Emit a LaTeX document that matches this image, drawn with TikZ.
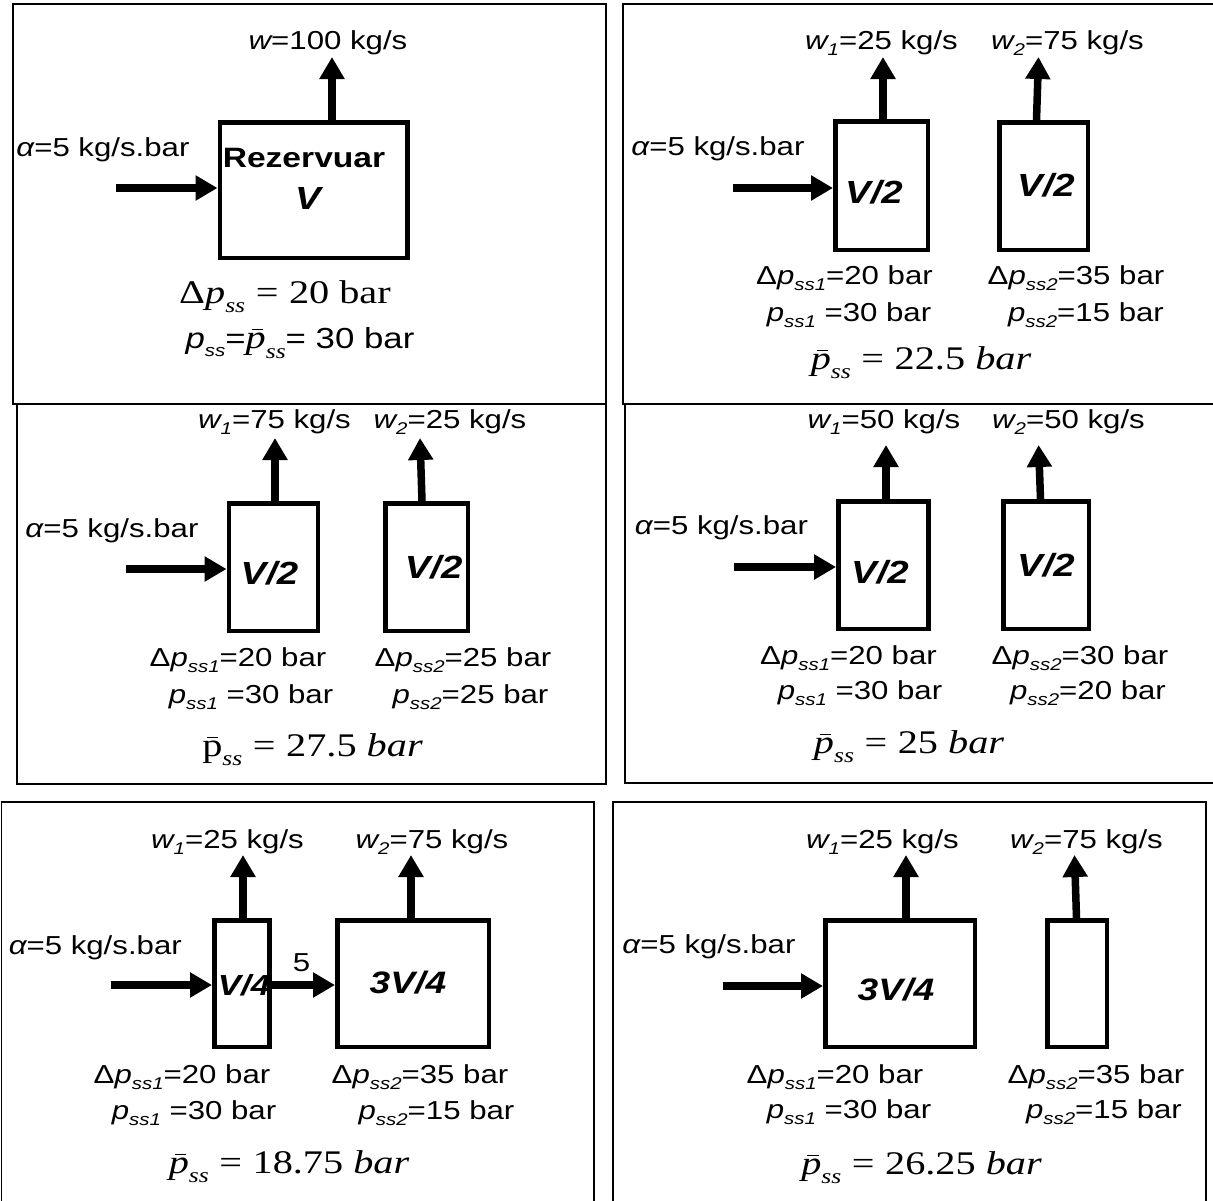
\documentclass[tikz,border=0pt]{standalone}
\usepackage[no-math]{fontspec}
\setmainfont{Liberation Sans}[FakeStretch=1.2]
\newfontfamily\serf{Liberation Serif}[FakeStretch=1.22]
\usepackage{graphicx}
\usetikzlibrary{arrows.meta}
\newcommand\sbs[1]{\raisebox{-0.25em}{\fontsize{17}{17}\selectfont\itshape #1}}
\newcommand\sss[1]{\raisebox{-0.28em}{\fontsize{21}{21}\selectfont\itshape #1}}
\newcommand\eqq{\hspace{0.32em}=\hspace{0.32em}}
\newcommand\pbar[1]{\ooalign{#1\cr\hidewidth\kern0.1em\raisebox{0.56em}{\rule{0.34em}{0.045em}}\hidewidth\cr}}
\tikzset{
  panel/.style={draw, line width=1.5pt},
  tank/.style={draw, line width=4.5pt, inner sep=0pt},
  flow/.style={line width=7.5pt, -{Triangle[width=24pt,length=22pt]}},
  lbl/.style={inner sep=0pt, font=\fontsize{26}{30}\selectfont},
  vol/.style={inner sep=0pt, font=\fontsize{32}{36}\selectfont\bfseries\itshape},
  eqn/.style={inner sep=0pt, font=\serf\fontsize{33}{38}\selectfont},
}
\begin{document}
\begin{tikzpicture}[x=1pt,y=-1pt]
\useasboundingbox (0,0) rectangle (1213,1200);
% panels
\draw[panel] (13,4) rectangle (606,404);
\draw[panel] (623,4) rectangle (1216,404);
\draw[panel] (17,404) rectangle (606,784);
\draw[panel] (625,404) rectangle (1216,783);
\draw[panel] (1.7,802) rectangle (594,1204);
\draw[panel] (613,802) rectangle (1206,1204);

% ---------- Panel 1
\node[tank, minimum width=187.5pt, minimum height=135.5pt] (p1a) at (313.5,190) {};
\coordinate (p1in) at (116,188);
\coordinate (p1t) at (332,57);
\draw[flow] (p1in) -- (p1in -| p1a.west);
\draw[flow] ([xshift=18.5pt]p1a.north) -- (p1t);
\node[lbl] (p1w) at (328,43) {{\itshape w}=100 kg/s};
\node[lbl] (p1al) at (103,150) {{\itshape α}=5 kg/s.bar};
\node[lbl, font=\fontsize{28}{32}\selectfont\bfseries] (p1r) at (304,158) {Rezervuar};
\node[vol] (p1v) at (308,198) {V};
\node[eqn] (p1e1) at (285,297) {Δ{\itshape p}\sss{ss}\eqq 20 bar};
\node[lbl, font=\fontsize{29}{33}\selectfont] (p1e2) at (300,343) {{\itshape p}\sbs{ss}={\serf\fontsize{33}{36}\selectfont\pbar{\itshape p}\sss{ss}}= 30 bar};

% ---------- Panel 2
\node[tank, minimum width=92.5pt, minimum height=128.5pt] (p2a) at (881.5,185.5) {};
\node[tank, minimum width=88.5pt, minimum height=127.5pt] (p2b) at (1043.5,186) {};
\coordinate (p2in) at (733,188);
\coordinate (p2ta) at (883,57);
\coordinate (p2tb) at (1038.5,57);
\draw[flow] (p2in) -- (p2in -| p2a.west);
\draw[flow] ([xshift=1.5pt]p2a.north) -- (p2ta);
\draw[flow] ([xshift=-7pt]p2b.north) -- (p2tb);
\node[lbl] (p2w1) at (881.5,43) {{\itshape w}\sbs{1}=25 kg/s};
\node[lbl] (p2w2) at (1067.5,43) {{\itshape w}\sbs{2}=75 kg/s};
\node[lbl] (p2al) at (718,149) {{\itshape α}=5 kg/s.bar};
\node[vol] (p2v1) at (874,192) {V/2};
\node[vol] (p2v2) at (1046,185) {V/2};
\node[lbl] (p2d1) at (844.5,278) {Δ{\itshape p}\sbs{ss1}=20 bar};
\node[lbl] (p2s1) at (849,315) {{\itshape p}\sbs{ss1} =30 bar};
\node[lbl] (p2d2) at (1076,278) {Δ{\itshape p}\sbs{ss2}=35 bar};
\node[lbl] (p2s2) at (1086,315) {{\itshape p}\sbs{ss2}=15 bar};
\node[eqn] (p2e) at (921,363) {\pbar{\itshape p}\sss{ss}\eqq 22.5 {\itshape bar}};

% ---------- Panel 3
\node[tank, minimum width=89pt, minimum height=127.5pt] (p3a) at (273.3,567) {};
\node[tank, minimum width=82.5pt, minimum height=127.5pt] (p3b) at (426.5,567) {};
\coordinate (p3in) at (126,569);
\coordinate (p3ta) at (275,438);
\coordinate (p3tb) at (420,438);
\draw[flow] (p3in) -- (p3in -| p3a.west);
\draw[flow] ([xshift=1.7pt]p3a.north) -- (p3ta);
\draw[flow] ([xshift=-4.5pt]p3b.north) -- (p3tb);
\node[lbl] (p3w1) at (274.5,422) {{\itshape w}\sbs{1}=75 kg/s};
\node[lbl] (p3w2) at (450,422) {{\itshape w}\sbs{2}=25 kg/s};
\node[lbl] (p3al) at (112,531) {{\itshape α}=5 kg/s.bar};
\node[vol] (p3v1) at (269.5,573) {V/2};
\node[vol] (p3v2) at (433.6,567) {V/2};
\node[lbl] (p3d1) at (238,660) {Δ{\itshape p}\sbs{ss1}=20 bar};
\node[lbl] (p3s1) at (251,697) {{\itshape p}\sbs{ss1} =30 bar};
\node[lbl] (p3d2) at (463,660) {Δ{\itshape p}\sbs{ss2}=25 bar};
\node[lbl] (p3s2) at (470.5,697) {{\itshape p}\sbs{ss2}=25 bar};
\node[eqn] (p3e) at (312.5,750) {\ooalign{p\cr\hidewidth\raisebox{0.56em}{\rule{0.34em}{0.045em}}\hidewidth\cr}\sss{ss}\eqq 27.5 {\itshape bar}};

% ---------- Panel 4
\node[tank, minimum width=90pt, minimum height=127.5pt] (p4a) at (883.3,565) {};
\node[tank, minimum width=85.5pt, minimum height=127.5pt] (p4b) at (1046,565) {};
\coordinate (p4in) at (734,567);
\coordinate (p4ta) at (886,445);
\coordinate (p4tb) at (1038.6,445);
\draw[flow] (p4in) -- (p4in -| p4a.west);
\draw[flow] ([xshift=2.7pt]p4a.north) -- (p4ta);
\draw[flow] ([xshift=-5.5pt]p4b.north) -- (p4tb);
\node[lbl] (p4w1) at (884,422) {{\itshape w}\sbs{1}=50 kg/s};
\node[lbl] (p4w2) at (1068.5,422) {{\itshape w}\sbs{2}=50 kg/s};
\node[lbl] (p4al) at (721.5,528) {{\itshape α}=5 kg/s.bar};
\node[vol] (p4v1) at (880,572) {V/2};
\node[vol] (p4v2) at (1046,565) {V/2};
\node[lbl] (p4d1) at (848.5,658) {Δ{\itshape p}\sbs{ss1}=20 bar};
\node[lbl] (p4s1) at (860,693) {{\itshape p}\sbs{ss1} =30 bar};
\node[lbl] (p4d2) at (1080,658) {Δ{\itshape p}\sbs{ss2}=30 bar};
\node[lbl] (p4s2) at (1088,693) {{\itshape p}\sbs{ss2}=20 bar};
\node[eqn] (p4e) at (909,747) {\pbar{\itshape p}\sss{ss}\eqq 25 {\itshape bar}};

% ---------- Panel 5
\node[tank, minimum width=55pt, minimum height=126.5pt] (p5a) at (241.75,983.5) {};
\node[tank, minimum width=151.5pt, minimum height=126.5pt] (p5b) at (413,983.5) {};
\coordinate (p5in) at (110.5,985);
\coordinate (p5ta) at (243,855);
\coordinate (p5tb) at (411,855);
\draw[flow] (p5in) -- (p5in -| p5a.west);
\draw[flow] (p5in -| p5a.east) -- (p5in -| p5b.west);
\draw[flow] ([xshift=1.25pt]p5a.north) -- (p5ta);
\draw[flow] ([xshift=-2pt]p5b.north) -- (p5tb);
\node[lbl] (p5w1) at (227.5,842) {{\itshape w}\sbs{1}=25 kg/s};
\node[lbl] (p5w2) at (432,842) {{\itshape w}\sbs{2}=75 kg/s};
\node[lbl] (p5al) at (95.3,948) {{\itshape α}=5 kg/s.bar};
\node[vol, font=\fontsize{29}{33}\selectfont\bfseries\itshape] (p5v1) at (244,985) {V/4};
\node[vol, font=\fontsize{31}{35}\selectfont\bfseries\itshape] (p5v2) at (408,983) {3V/4};
\node[lbl] (p5five) at (301.5,963) {5};
\node[lbl] (p5d1) at (182,1077) {Δ{\itshape p}\sbs{ss1}=20 bar};
\node[lbl] (p5s1) at (194,1113) {{\itshape p}\sbs{ss1} =30 bar};
\node[lbl] (p5d2) at (420,1077) {Δ{\itshape p}\sbs{ss2}=35 bar};
\node[lbl] (p5s2) at (436.5,1113) {{\itshape p}\sbs{ss2}=15 bar};
\node[eqn] (p5e) at (289,1167) {\pbar{\itshape p}\sss{ss}\eqq 18.75 {\itshape bar}};

% ---------- Panel 6
\node[tank, minimum width=149.5pt, minimum height=126.5pt] (p6a) at (900,983.5) {};
\node[tank, minimum width=59.5pt, minimum height=126.5pt] (p6b) at (1077,983.5) {};
\coordinate (p6in) at (722.7,986);
\coordinate (p6ta) at (906,855);
\coordinate (p6tb) at (1074.5,855);
\draw[flow] (p6in) -- (p6in -| p6a.west);
\draw[flow] ([xshift=6pt]p6a.north) -- (p6ta);
\draw[flow] ([xshift=-0.5pt]p6b.north) -- (p6tb);
\node[lbl] (p6w1) at (882.5,842) {{\itshape w}\sbs{1}=25 kg/s};
\node[lbl] (p6w2) at (1086.5,842) {{\itshape w}\sbs{2}=75 kg/s};
\node[lbl] (p6al) at (709,947) {{\itshape α}=5 kg/s.bar};
\node[vol, font=\fontsize{31}{35}\selectfont\bfseries\itshape] (p6v1) at (896,990) {3V/4};
\node[lbl] (p6d1) at (835,1077) {Δ{\itshape p}\sbs{ss1}=20 bar};
\node[lbl] (p6s1) at (849,1112) {{\itshape p}\sbs{ss1} =30 bar};
\node[lbl] (p6d2) at (1096,1077) {Δ{\itshape p}\sbs{ss2}=35 bar};
\node[lbl] (p6s2) at (1104,1112) {{\itshape p}\sbs{ss2}=15 bar};
\node[eqn] (p6e) at (921.5,1168) {\pbar{\itshape p}\sss{ss}\eqq 26.25 {\itshape bar}};
\end{tikzpicture}
\end{document}
